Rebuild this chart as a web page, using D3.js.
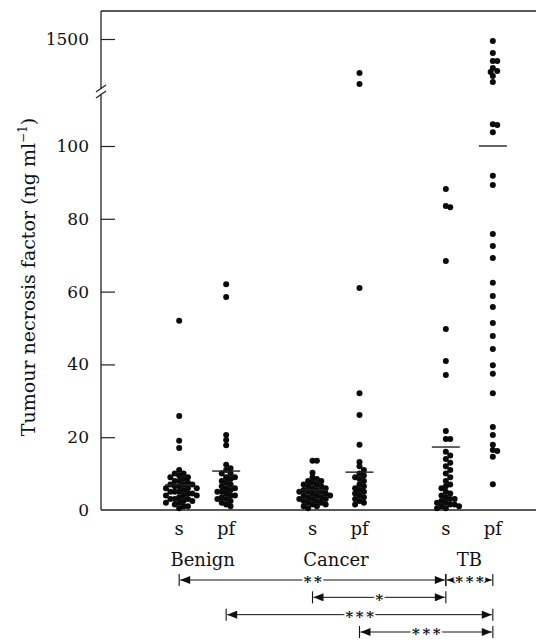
<!DOCTYPE html>
<html>
<head>
<meta charset="utf-8">
<script src="https://cdn.jsdelivr.net/npm/d3@7"></script>
<style>
    body { margin: 0; background: #fff; }
    svg text { font-family: "DejaVu Serif", serif; fill: #111; }
</style>
</head>
<body>
<div id="chart"></div>
<script>
// categories
const groups = ["Benign", "Cancer", "TB"];
const samples = ["s", "pf"];
const lowTicks = [0, 20, 40, 60, 80, 100];
const highTicks = [1500];

// TNF (ng/ml) per patient; s = serum, pf = pleural fluid
const benignS = [52, 25.8, 19, 17, 11, 10, 10, 9.5, 9, 9, 8.5, 8, 8, 7.5, 7, 7, 7, 6.5, 6.5, 6, 6, 6, 5.5, 5, 5, 5,
    4.5, 4.5, 4, 4, 4, 3.5, 3, 3, 3, 2.5, 2.5, 2, 2, 1.5, 1, 1, 0.5];
const benignPf = [62, 58.5, 20.6, 19.2, 17.8, 12.4, 11.5, 11, 10, 10, 9, 9, 8.5, 8, 7.5, 7, 6.5, 6, 6, 5.5, 5, 5,
    4.5, 4, 4, 3.5, 3, 3, 2.5, 2, 1.5, 1];
const cancerS = [13.5, 13.5, 10.2, 9, 8.5, 8, 8, 7.5, 7, 7, 6.5, 6.5, 6, 6, 5.5, 5.5, 5, 5, 5, 4.5, 4.5, 4, 4, 4,
    3.5, 3.5, 3, 3, 3, 2.5, 2.5, 2, 2, 1.5, 1.5, 1, 1, 0.5];
const cancerPf = [1273, 1200, 61, 32.1, 26.1, 17.9, 13.2, 12, 11, 10, 9.5, 9, 8.5, 8, 7, 6.5, 6, 5.5, 5, 4.5, 4, 3.5,
    3, 2.5, 2, 1.5];
const tbS = [88.2, 83.5, 83.2, 68.4, 49.7, 40.9, 37.1, 21.7, 19.5, 19.5, 16, 15, 14, 13, 12, 11, 10, 9, 8, 7, 6.5, 6,
    5, 4.5, 4, 3.5, 3, 3, 2.5, 2, 2, 1.5, 1.5, 1, 1, 0.5, 0.5];
const tbPf = [1487, 1407, 1353, 1353, 1307, 1287, 1280, 1253, 1213, 106, 105.8, 103.8, 91.8, 89.3, 75.8, 72.5, 69.2,
    62.4, 58.8, 55.8, 51.4, 47.8, 44.2, 39.8, 37.4, 32.1, 22.8, 20.6, 17.9, 16.5, 16.2, 14.6, 7.1];

// mean bars, same order as the columns
const means = [6.9, 10.7, 5.5, 10.4, 17.3, 100];

// significance brackets: [group, sample] -> [group, sample]
const compFrom = [["Benign", "s"], ["TB", "s"], ["Cancer", "s"], ["Benign", "pf"], ["Cancer", "pf"]];
const compTo = [["TB", "s"], ["TB", "pf"], ["TB", "s"], ["TB", "pf"], ["TB", "pf"]];
const compLabel = ["\u2217\u2217", "\u2217\u2217\u2217", "\u2217", "\u2217\u2217\u2217", "\u2217\u2217\u2217"];
const compRow = [0, 0, 1, 2, 3];

const columns = [
    {g: "Benign", s: "s", vals: benignS},
    {g: "Benign", s: "pf", vals: benignPf},
    {g: "Cancer", s: "s", vals: cancerS},
    {g: "Cancer", s: "pf", vals: cancerPf},
    {g: "TB", s: "s", vals: tbS},
    {g: "TB", s: "pf", vals: tbPf}
];

const W = 536, H = 640;
const axLeft = 101, axTop = 11, axBottom = 510;

const svg = d3.select("#chart").append("svg")
    .attr("width", W)
    .attr("height", H);

// x: group band + sample offset
const xGroup = d3.scaleBand().domain(groups).range([136, 536]);
const xSample = d3.scalePoint().domain(samples).range([-23.5, 23.5]);
const xPos = (g, s) => xGroup(g) + xGroup.bandwidth() / 2 + xSample(s);

// y: broken axis
const yLow = d3.scaleLinear().domain([0, 100]).range([axBottom, 146]);
const yHigh = d3.scaleLinear().domain([1200, 1500]).range([84, 39]);
const yVal = v => v > 500 ? yHigh(v) : yLow(v);

// frame
svg.append("line").attr("x1", axLeft).attr("x2", W).attr("y1", axTop).attr("y2", axTop)
    .attr("stroke", "#222").attr("stroke-width", 1.3);
svg.append("line").attr("x1", axLeft).attr("x2", W).attr("y1", axBottom).attr("y2", axBottom)
    .attr("stroke", "#222").attr("stroke-width", 1.3);
svg.append("line").attr("x1", axLeft).attr("x2", axLeft).attr("y1", axTop).attr("y2", 89)
    .attr("stroke", "#222").attr("stroke-width", 1.3);
svg.append("line").attr("x1", axLeft).attr("x2", axLeft).attr("y1", 95).attr("y2", axBottom)
    .attr("stroke", "#222").attr("stroke-width", 1.3);
// break marks
[89, 95].forEach(function (yy) {
    svg.append("line").attr("x1", axLeft - 5).attr("x2", axLeft + 5).attr("y1", yy + 3).attr("y2", yy - 4)
        .attr("stroke", "#222").attr("stroke-width", 1.2);
});

// axes
const styleAxis = g => {
    g.select(".domain").remove();
    g.selectAll(".tick line").attr("stroke", "#222").attr("stroke-width", 1.2);
    g.selectAll(".tick text").style("font-size", "17px").attr("fill", "#111");
};
svg.append("g").attr("transform", `translate(${axLeft},0)`)
    .call(d3.axisLeft(yLow).tickValues(lowTicks).tickSize(-14).tickPadding(12))
    .call(styleAxis);
svg.append("g").attr("transform", `translate(${axLeft},0)`)
    .call(d3.axisLeft(yHigh).tickValues(highTicks).tickFormat(d3.format("d")).tickSize(-14).tickPadding(12))
    .call(styleAxis);
// no tick mark on the 0 line (it is the x axis)
svg.selectAll(".tick").filter(d => d === 0).select("line").remove();

// y title
const title = svg.append("text")
    .attr("transform", "translate(35,277) rotate(-90)")
    .attr("text-anchor", "middle")
    .style("font-size", "19px");
title.append("tspan").text("Tumour necrosis factor (ng ml");
title.append("tspan").attr("dy", -8).style("font-size", "12px").text("\u22121");
title.append("tspan").attr("dy", 8).text(")");

// beeswarm offsets
function swarm(vals, minD) {
    let placed = [];
    return vals.slice().sort((a, b) => b - a).map(function (v) {
        let y = yVal(v);
        let off = 0;
        for (let k = 0; k < 40; k++) {
            let o = (k % 2 ? 1 : -1) * Math.ceil(k / 2) * 2.2;
            if (placed.every(p => Math.hypot(p.dx - o, p.y - y) >= minD)) { off = o; break; }
        }
        placed.push({dx: off, y: y});
        return {v: v, y: y, dx: off};
    });
}

columns.forEach(function (c, i) {
    let cx = xPos(c.g, c.s);
    let pts = swarm(c.vals, 4.3);
    svg.selectAll(".dot" + i)
        .data(pts)
        .enter()
        .append("circle")
        .attr("class", "dot" + i)
        .attr("cx", d => cx + d.dx)
        .attr("cy", d => d.y)
        .attr("r", 3)
        .attr("fill", "#0a0a0a");

    svg.append("line")
        .attr("x1", cx - 14).attr("x2", cx + 14)
        .attr("y1", yVal(means[i])).attr("y2", yVal(means[i]))
        .attr("stroke", "#222").attr("stroke-width", 1.4);

    svg.append("text")
        .attr("x", cx).attr("y", 535)
        .attr("text-anchor", "middle")
        .style("font-size", "18px")
        .text(c.s);
});

groups.forEach(function (g) {
    svg.append("text")
        .attr("x", xGroup(g) + xGroup.bandwidth() / 2)
        .attr("y", 566)
        .attr("text-anchor", "middle")
        .style("font-size", "18px")
        .text(g);
});

// arrow marker
svg.append("defs").append("marker")
    .attr("id", "arr")
    .attr("viewBox", "0 0 10 8")
    .attr("refX", 10).attr("refY", 4)
    .attr("markerWidth", 11).attr("markerHeight", 8)
    .attr("markerUnits", "userSpaceOnUse")
    .attr("orient", "auto-start-reverse")
    .append("path").attr("d", "M0,0 L10,4 L0,8 Z").attr("fill", "#111");

const rowY = d3.scaleLinear().domain([0, 3]).range([580, 632]);

compLabel.forEach(function (lab, i) {
    let x1 = xPos(compFrom[i][0], compFrom[i][1]);
    let x2 = xPos(compTo[i][0], compTo[i][1]);
    let y = rowY(compRow[i]);
    svg.append("line")
        .attr("x1", x1 + 1).attr("x2", x2 - 1).attr("y1", y).attr("y2", y)
        .attr("stroke", "#111").attr("stroke-width", 1)
        .attr("marker-start", "url(#arr)").attr("marker-end", "url(#arr)");
    [x1, x2].forEach(function (xx) {
        svg.append("line").attr("x1", xx).attr("x2", xx).attr("y1", y - 6).attr("y2", y + 6)
            .attr("stroke", "#111").attr("stroke-width", 1.1);
    });
    svg.append("text")
        .attr("x", (x1 + x2) / 2).attr("y", y + 4.3)
        .attr("text-anchor", "middle")
        .style("font-size", "15px")
        .style("font-weight", "bold")
        .attr("stroke", "#fff").attr("stroke-width", 3).attr("paint-order", "stroke")
        .text(lab);
});
</script>
</body>
</html>
